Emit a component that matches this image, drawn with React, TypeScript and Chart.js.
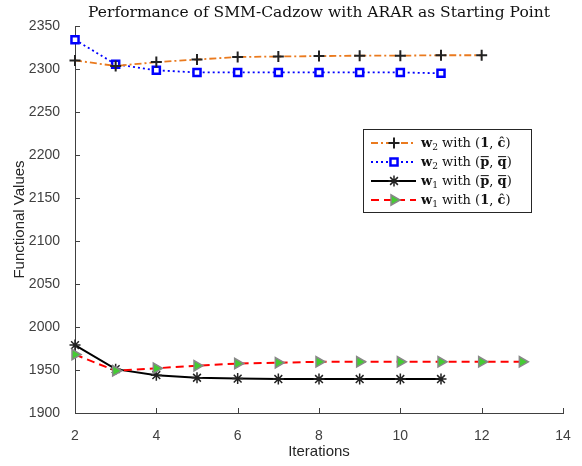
import React, { useEffect, useRef } from 'react';
import { Chart, registerables } from 'chart.js';
import { drawPoint } from 'chart.js/helpers';

Chart.register(...registerables);

const titleText = 'Performance of SMM-Cadzow with ARAR as Starting Point';
const xLabel = 'Iterations';
const yLabel = 'Functional Values';

const iterW2One = [2, 3, 4, 5, 6, 7, 8, 9, 10, 11, 12];
const valW2One = [2310, 2303.5, 2308, 2311, 2314, 2314.5, 2315, 2315.5, 2315.5, 2316, 2316];
const iterW2PQ = [2, 3, 4, 5, 6, 7, 8, 9, 10, 11];
const valW2PQ = [2334, 2305.5, 2298.5, 2296, 2296, 2296, 2296, 2296, 2296, 2295];
const iterW1PQ = [2, 3, 4, 5, 6, 7, 8, 9, 10, 11];
const valW1PQ = [1979, 1951, 1944, 1941, 1940, 1939.5, 1939.5, 1939.5, 1939.5, 1939.5];
const iterW1One = [2, 3, 4, 5, 6, 7, 8, 9, 10, 11, 12, 13];
const valW1One = [1968, 1949, 1952, 1955, 1957.5, 1958.5, 1959.5, 1959.5, 1959.5, 1959.5, 1959.5, 1959.5];

const xMin = 2, xMax = 14, xStep = 2;
const yMin = 1900, yMax = 2350, yStep = 50;

const toXY = (xs: number[], ys: number[]) => xs.map((x, i) => ({ x, y: ys[i] }));

type Part = { t: string; bold?: boolean; sub?: boolean; bar?: boolean };

const legendItems = [
  {
    color: '#EA7A1E', dash: [7, 3, 2, 3], width: 1.8,
    point: { pointStyle: 'cross', radius: 5.5, borderWidth: 2, rotation: 0 }, pFill: '#222', pStroke: '#222',
    parts: [{ t: 'w', bold: true }, { t: '2', sub: true }, { t: ' with ' }, { t: '(' }, { t: '1', bold: true }, { t: ', ' }, { t: 'ĉ', bold: true }, { t: ')' }] as Part[],
  },
  {
    color: '#0000FF', dash: [2, 3], width: 1.8,
    point: { pointStyle: 'rect', radius: 5, borderWidth: 2.5, rotation: 0 }, pFill: '#ffffff', pStroke: '#0000FF',
    parts: [{ t: 'w', bold: true }, { t: '2', sub: true }, { t: ' with ' }, { t: '(' }, { t: 'p', bold: true, bar: true }, { t: ', ' }, { t: 'q', bold: true, bar: true }, { t: ')' }] as Part[],
  },
  {
    color: '#000000', dash: [], width: 2,
    point: { pointStyle: 'star', radius: 5.5, borderWidth: 1.5, rotation: 0 }, pFill: '#222', pStroke: '#222',
    parts: [{ t: 'w', bold: true }, { t: '1', sub: true }, { t: ' with ' }, { t: '(' }, { t: 'p', bold: true, bar: true }, { t: ', ' }, { t: 'q', bold: true, bar: true }, { t: ')' }] as Part[],
  },
  {
    color: '#FF0000', dash: [8, 5], width: 2,
    point: { pointStyle: 'triangle', radius: 6, borderWidth: 1.5, rotation: 90 }, pFill: '#44CC33', pStroke: '#888888',
    parts: [{ t: 'w', bold: true }, { t: '1', sub: true }, { t: ' with ' }, { t: '(' }, { t: '1', bold: true }, { t: ', ' }, { t: 'ĉ', bold: true }, { t: ')' }] as Part[],
  },
];

const serif = '"DejaVu Serif", "Liberation Serif", serif';
const sans = '"Liberation Sans", Arial, sans-serif';

function drawRich(ctx: CanvasRenderingContext2D, x: number, y: number, parts: Part[], size: number) {
  let cx = x;
  ctx.textBaseline = 'alphabetic';
  ctx.textAlign = 'left';
  for (const p of parts) {
    const fs = p.sub ? size * 0.7 : size;
    ctx.font = `${p.bold ? 'bold ' : ''}${fs}px ${serif}`;
    const dy = p.sub ? 2.5 : 0;
    ctx.fillText(p.t, cx, y + dy);
    const w = ctx.measureText(p.t).width;
    if (p.bar) {
      ctx.beginPath();
      ctx.lineWidth = 1;
      ctx.moveTo(cx + 0.5, y - size * 0.72);
      ctx.lineTo(cx + w - 0.5, y - size * 0.72);
      ctx.stroke();
    }
    cx += w;
  }
}

const overlayPlugin = {
  id: 'overlay',
  afterDraw(chart: any) {
    const ctx: CanvasRenderingContext2D = chart.ctx;
    const { left, right, top, bottom } = chart.chartArea;
    const xs = chart.scales.x;
    const ys = chart.scales.y;
    ctx.save();
    // inward ticks
    ctx.strokeStyle = '#404040';
    ctx.lineWidth = 1;
    ctx.beginPath();
    xs.ticks.forEach((t: any) => {
      const px = Math.round(xs.getPixelForValue(t.value)) + 0.5;
      ctx.moveTo(px, bottom);
      ctx.lineTo(px, bottom - 5);
    });
    ys.ticks.forEach((t: any) => {
      const py = Math.round(ys.getPixelForValue(t.value)) + 0.5;
      ctx.moveTo(left, py);
      ctx.lineTo(left + 5, py);
    });
    ctx.stroke();

    // title
    ctx.fillStyle = '#111';
    ctx.font = `15.5px ${serif}`;
    ctx.textAlign = 'center';
    ctx.textBaseline = 'alphabetic';
    ctx.fillText(titleText, (left + right) / 2, 17);

    // axis labels
    ctx.fillStyle = '#262626';
    ctx.font = `15px ${sans}`;
    ctx.textBaseline = 'middle';
    ctx.fillText(xLabel, (left + right) / 2, 452);
    ctx.save();
    ctx.translate(20, (top + bottom) / 2);
    ctx.rotate(-Math.PI / 2);
    ctx.fillText(yLabel, 0, 0);
    ctx.restore();

    // legend
    const bx = 363, by = 129, bw = 168, bh = 83;
    ctx.fillStyle = '#ffffff';
    ctx.fillRect(bx, by, bw, bh);
    ctx.strokeStyle = '#262626';
    ctx.lineWidth = 1;
    ctx.strokeRect(bx + 0.5, by + 0.5, bw, bh);
    const rowY = [143, 162, 181, 200];
    legendItems.forEach((it, i) => {
      const y = rowY[i];
      ctx.save();
      ctx.strokeStyle = it.color;
      ctx.lineWidth = it.width;
      ctx.setLineDash(it.dash);
      ctx.beginPath();
      ctx.moveTo(371, y);
      ctx.lineTo(416, y);
      ctx.stroke();
      ctx.restore();
      ctx.save();
      ctx.fillStyle = it.pFill;
      ctx.strokeStyle = it.pStroke;
      ctx.lineWidth = it.point.borderWidth;
      drawPoint(ctx, it.point as any, 394, y);
      ctx.restore();
      ctx.fillStyle = '#111';
      ctx.strokeStyle = '#111';
      drawRich(ctx, 421, y + 4, it.parts, 13);
    });
    ctx.restore();
  },
};

export default function App() {
  const ref = useRef<HTMLCanvasElement>(null);
  useEffect(() => {
    document.body.style.margin = '0';
    const canvas = ref.current!;
    const chart = new Chart(canvas, {
      type: 'line',
      data: {
        datasets: [
          {
            label: 'w2 with (1, c)',
            data: toXY(iterW2One, valW2One),
            borderColor: '#EA7A1E', borderWidth: 1.8, borderDash: [7, 3, 2, 3],
            pointStyle: 'cross', pointRadius: 5.5, pointBorderWidth: 2,
            pointBorderColor: '#222', pointBackgroundColor: '#222',
            clip: false as any, order: 0,
          },
          {
            label: 'w2 with (p, q)',
            data: toXY(iterW2PQ, valW2PQ),
            borderColor: '#0000FF', borderWidth: 1.8, borderDash: [2, 3],
            pointStyle: 'rect', pointRadius: 5, pointBorderWidth: 2.5,
            pointBorderColor: '#0000FF', pointBackgroundColor: '#ffffff',
            clip: false as any, order: 1,
          },
          {
            label: 'w1 with (p, q)',
            data: toXY(iterW1PQ, valW1PQ),
            borderColor: '#000000', borderWidth: 2,
            pointStyle: 'star', pointRadius: 5.5, pointBorderWidth: 1.5,
            pointBorderColor: '#222', pointBackgroundColor: '#222',
            clip: false as any, order: 3,
          },
          {
            label: 'w1 with (1, c)',
            data: toXY(iterW1One, valW1One),
            borderColor: '#FF0000', borderWidth: 2, borderDash: [8, 5],
            pointStyle: 'triangle', pointRotation: 90, pointRadius: 6, pointBorderWidth: 1.5,
            pointBorderColor: '#888888', pointBackgroundColor: '#44CC33',
            clip: false as any, order: 2,
          },
        ],
      },
      options: {
        animation: false,
        responsive: false,
        devicePixelRatio: 1,
        layout: { padding: { left: 0, right: 19, top: 26, bottom: 0 } },
        plugins: { legend: { display: false }, tooltip: { enabled: false }, title: { display: false } },
        scales: {
          x: {
            type: 'linear', min: xMin, max: xMax,
            ticks: { stepSize: xStep, color: '#404040', font: { family: sans, size: 14 }, padding: 7, maxRotation: 0, callback: (v: any) => String(v) },
            grid: { display: false },
            border: { display: true, color: '#404040', width: 1 },
            afterFit: (s: any) => { s.height = 53; },
          },
          y: {
            type: 'linear', min: yMin, max: yMax,
            ticks: { stepSize: yStep, color: '#404040', font: { family: sans, size: 14 }, padding: 7, callback: (v: any) => String(v) },
            grid: { display: false },
            border: { display: true, color: '#404040', width: 1 },
            afterFit: (s: any) => { s.width = 75; },
          },
        },
      },
      plugins: [overlayPlugin],
    });
    return () => chart.destroy();
  }, []);
  return <canvas ref={ref} width={582} height={466} style={{ display: 'block' }} />;
}
